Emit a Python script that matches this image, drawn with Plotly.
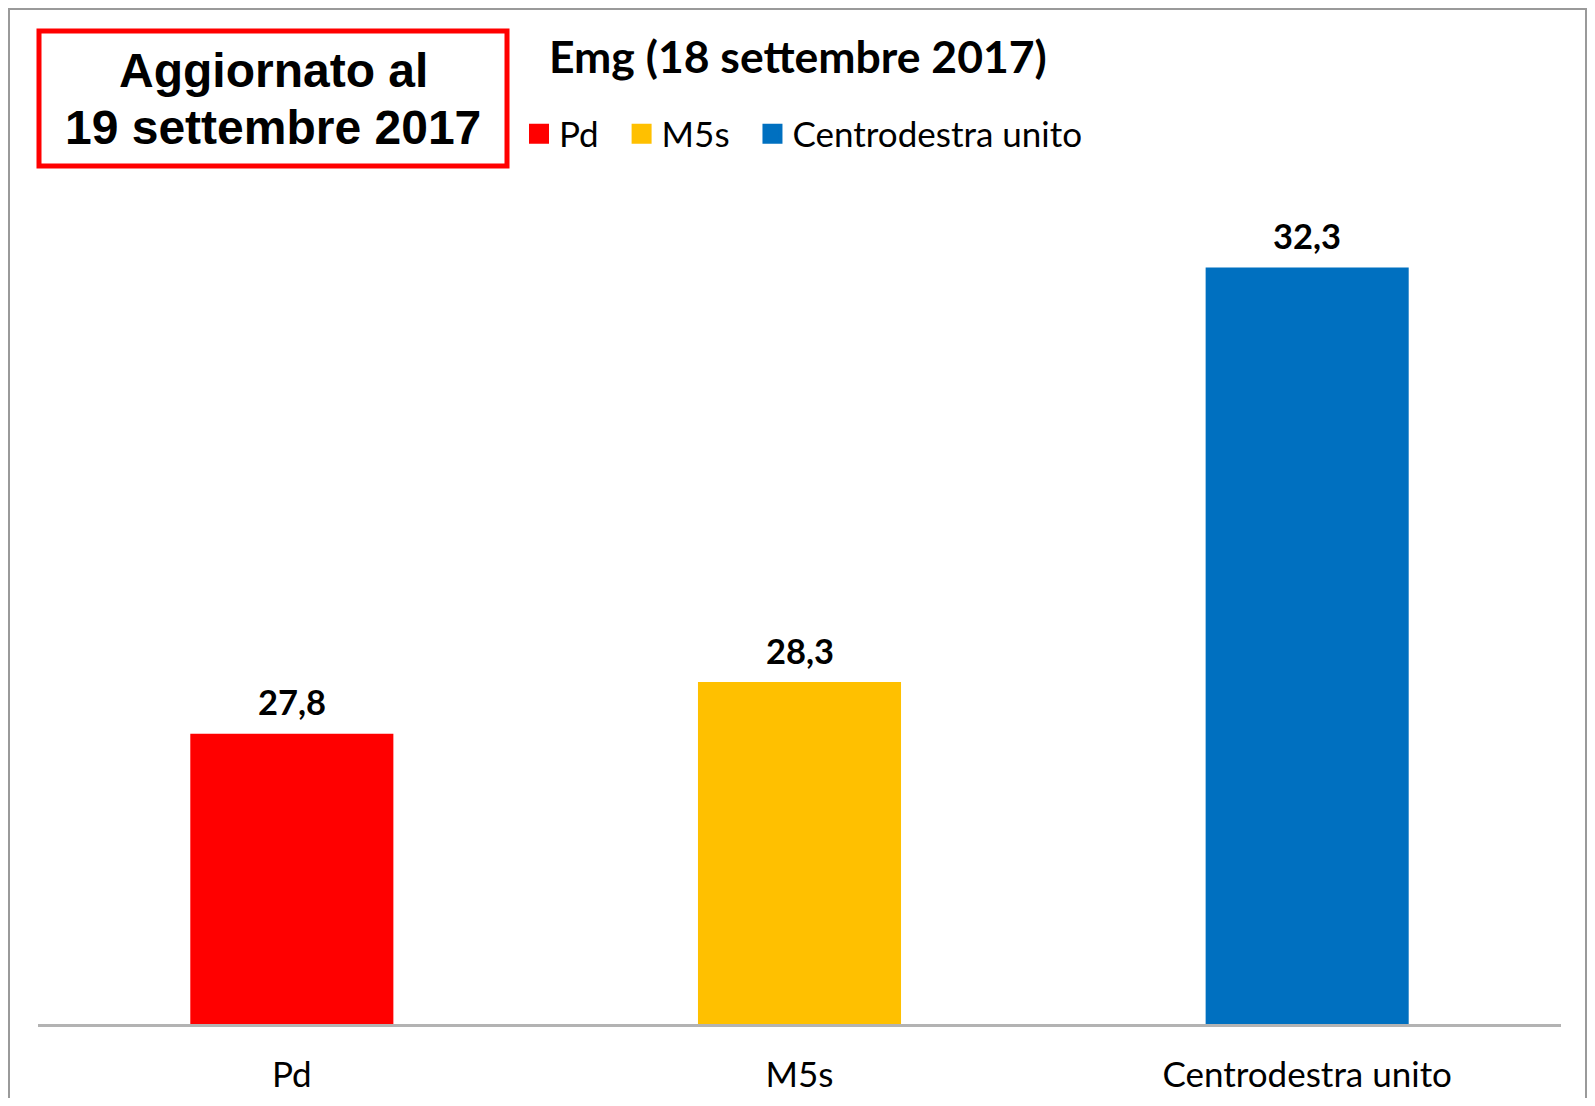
import plotly.graph_objects as go

# dati del sondaggio Emg
categorie = ["Pd", "M5s", "Centrodestra unito"]
valori = [27.8, 28.3, 32.3]
etichette = ["27,8", "28,3", "32,3"]
colori = ["#FF0000", "#FFC000", "#0070C0"]

titolo = "Emg (18 settembre 2017)"
riquadro = ["Aggiornato al", "19 settembre 2017"]

# la pagina html ha un margine di 8px sul body: la figura resta dentro la finestra
OFF = 8
W, H = 1579, 1090
L, R, T, B = 30, 26, 187, 74
pw, ph = W - L - R, H - T - B


# coordinate della pagina -> coordinate paper
def px(x):
    return (x - OFF - L) / pw


def py(y):
    return (H - B - (y - OFF)) / ph


fig = go.Figure()

for cat, val, col in zip(categorie, valori, colori):
    fig.add_trace(
        go.Bar(
            x=[cat],
            y=[val],
            name=cat,
            marker=dict(color=col, line=dict(width=0)),
            width=0.4,
            showlegend=False,
        )
    )

# voci della legenda (quadrati)
for cat, col in zip(categorie, colori):
    fig.add_trace(
        go.Scatter(
            x=[None], y=[None], mode='markers',
            name=cat + '\u00a0' * 2,
            marker=dict(symbol='square', size=16, color=col,
                        line=dict(color=col, width=4)),
        )
    )

# etichette dei valori sopra le barre
annotazioni = []
for cat, val, et in zip(categorie, valori, etichette):
    annotazioni.append(dict(
        x=cat, y=val, text=et, showarrow=False,
        yanchor='middle', yshift=32,
        font=dict(family='Lato', size=34.5, color='black', weight='bold'),
    ))

# titolo
annotazioni.append(dict(
    x=px(798), y=py(56), xref='paper', yref='paper', text=titolo,
    showarrow=False, xanchor='center', yanchor='middle',
    font=dict(family='Lato', size=44.5, color='black', weight='bold'),
))

# testo nel riquadro rosso
for testo, yy in zip(riquadro, [70, 128]):
    annotazioni.append(dict(
        x=px(273), y=py(yy), xref='paper', yref='paper', text=testo,
        showarrow=False, xanchor='center', yanchor='middle',
        font=dict(family='Liberation Sans', size=48, color='black', weight='bold'),
    ))

forme = [
    # bordo esterno grigio
    dict(type='rect', xref='paper', yref='paper',
         x0=px(9), x1=px(1586), y0=py(1130), y1=py(9),
         line=dict(color='#9a9a9a', width=2)),
    # riquadro rosso
    dict(type='rect', xref='paper', yref='paper',
         x0=px(39), x1=px(507), y0=py(166), y1=py(31),
         line=dict(color='#FF0000', width=5)),
]

fig.update_layout(
    width=W, height=H,
    margin=dict(l=L, r=R, t=T, b=B),
    paper_bgcolor='white', plot_bgcolor='white',
    barmode='overlay',
    showlegend=True,
    legend=dict(
        orientation='h', x=px(519), y=py(134),
        xanchor='left', yanchor='middle',
        font=dict(family='Lato', size=35, color='black'),
        bgcolor='rgba(0,0,0,0)',
    ),
    annotations=annotazioni,
    shapes=forme,
)

fig.update_xaxes(
    automargin=False,
    showline=True, linecolor='#b3b3b3', linewidth=2.5,
    showgrid=False, zeroline=False,
    ticks='outside', ticklen=18, tickcolor='rgba(0,0,0,0)',
    tickfont=dict(family='Lato', size=35, color='black'),
)
fig.update_yaxes(range=[25, 33], visible=False, automargin=False)

fig.write_html("out.html")
